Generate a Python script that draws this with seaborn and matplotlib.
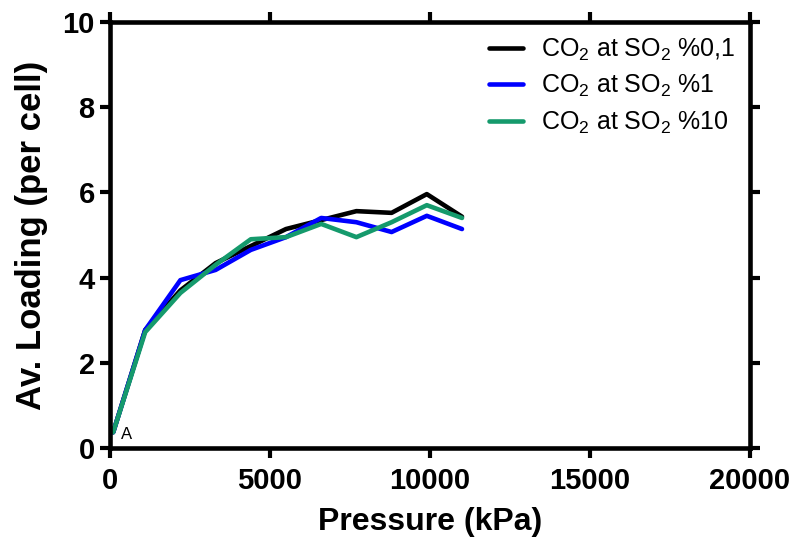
import matplotlib
matplotlib.use("Agg")
import matplotlib.pyplot as plt
import seaborn as sns
import pandas as pd

sns.set_style("ticks")
plt.rcParams['font.family'] = ['Liberation Sans', 'DejaVu Sans']
plt.rcParams['mathtext.default'] = 'regular'
plt.rcParams['text.color'] = 'black'
plt.rcParams['axes.labelcolor'] = 'black'
plt.rcParams['xtick.color'] = 'black'
plt.rcParams['ytick.color'] = 'black'

pressure = [100, 1100, 2200, 3300, 4400, 5500, 6600, 7700, 8800, 9900, 11000]
so2_01 = [0.37, 2.77, 3.70, 4.34, 4.74, 5.14, 5.35, 5.56, 5.52, 5.96, 5.43]
so2_1 = [0.37, 2.77, 3.94, 4.18, 4.65, 4.95, 5.40, 5.30, 5.07, 5.45, 5.14]
so2_10 = [0.37, 2.72, 3.64, 4.30, 4.90, 4.95, 5.26, 4.95, 5.30, 5.70, 5.40]
labels = [r"CO$_2$ at SO$_2$ %0,1", r"CO$_2$ at SO$_2$ %1", r"CO$_2$ at SO$_2$ %10"]
colors = ["#000000", "#0000FF", "#159A6C"]
x_ticks = [0, 5000, 10000, 15000, 20000]
y_ticks = [0, 2, 4, 6, 8, 10]

rows = []
for lab, vals in zip(labels, [so2_01, so2_1, so2_10]):
    for p, v in zip(pressure, vals):
        rows.append({"Pressure": p, "Loading": v, "Series": lab})
df = pd.DataFrame(rows)

fig = plt.figure(figsize=(7.95, 5.4), dpi=100)
ax = fig.add_axes([110/795, 1-448/540, 640/795, 426/540])
sns.lineplot(data=df, x="Pressure", y="Loading", hue="Series", palette=colors,
             linewidth=3.3, ax=ax, sort=False)

ax.set_xlim(0, 20000)
ax.set_ylim(0, 10)
ax.set_xticks(x_ticks)
ax.set_yticks(y_ticks)
ax.set_xticklabels([str(t) for t in x_ticks], fontsize=21, fontweight='bold')
ax.set_yticklabels([str(t) for t in y_ticks], fontsize=21, fontweight='bold')
ax.set_xlabel("Pressure (kPa)", fontsize=23, fontweight='bold', labelpad=8)
ax.set_ylabel("Av. Loading (per cell)", fontsize=25, fontweight='bold', labelpad=10)

for s in ax.spines.values():
    s.set_linewidth(3.3)
    s.set_color('black')
ax.tick_params(axis='both', direction='out', length=7, width=3.0, color='black')
ax.tick_params(axis='x', pad=7)
ax.tick_params(axis='y', pad=4)
ax.tick_params(top=True, right=True, labeltop=False, labelright=False)

ax.text(340, 0.22, "A", fontsize=12)

leg = ax.legend(loc='upper right', frameon=False, fontsize=18, handlelength=1.35,
                borderaxespad=0.2, labelspacing=0.4, handletextpad=0.7)
for line in leg.get_lines():
    line.set_linewidth(3.3)

fig.savefig("out.png", dpi=100)
